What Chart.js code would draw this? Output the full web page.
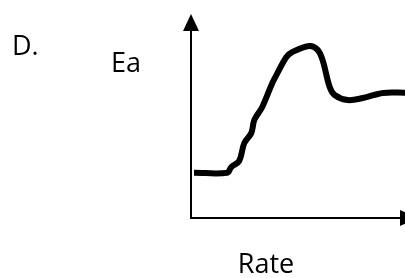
<!DOCTYPE html>
<html>
<head>
<meta charset="utf-8">
<script src="https://cdn.jsdelivr.net/npm/chart.js@4"></script>
<style>
  html, body { margin: 0; padding: 0; background: #fff; }
  #wrap { width: 405px; height: 278px; }
</style>
</head>
<body>
<div id="wrap"><canvas id="chart"></canvas></div>
<script>
// curve, x = rate, y = Ea (0..100 both)
const rateValues = [1.4, 16.9, 18.8, 22.5, 24.9, 28.2, 29.6, 33.3, 38.0, 39.9, 44.6, 47.4, 55.4, 59.2, 61.5, 64.8, 67.1, 73.2, 80.3, 89.7, 100];
const eaValues = [22.3, 22.3, 25.1, 28.1, 36.9, 41.9, 48.3, 54.7, 66.5, 70.4, 79.3, 81.8, 84.7, 82.8, 77.8, 64.5, 60.6, 58.1, 59.1, 61.6, 61.7];
const panelLabel = 'D.';
const xTitle = 'Rate';
const yTitle = 'Ea';

const font = '"Open Sans", sans-serif';

// axes with arrow heads + the labels
const axesPlugin = {
    id: 'axes',
    afterDraw(chart) {
        const ctx = chart.ctx;
        const a = chart.chartArea;
        const x0 = a.left, y0 = a.bottom;
        ctx.save();
        ctx.strokeStyle = '#000';
        ctx.fillStyle = '#000';
        ctx.lineWidth = 2;
        ctx.beginPath();
        ctx.moveTo(x0, a.top + 14);
        ctx.lineTo(x0, y0);
        ctx.lineTo(a.right - 5, y0);
        ctx.stroke();
        // up arrow
        ctx.beginPath();
        ctx.moveTo(x0, a.top - 1);
        ctx.lineTo(x0 - 8, a.top + 16);
        ctx.lineTo(x0 + 8, a.top + 16);
        ctx.closePath();
        ctx.fill();
        // right arrow (cut off by the edge)
        ctx.beginPath();
        ctx.moveTo(a.right - 5, y0 - 8);
        ctx.lineTo(a.right + 12, y0);
        ctx.lineTo(a.right - 5, y0 + 8);
        ctx.closePath();
        ctx.fill();

        ctx.font = '27px ' + font;
        ctx.textBaseline = 'alphabetic';
        ctx.textAlign = 'left';
        ctx.fillText(panelLabel, 12, 55);
        ctx.fillText(yTitle, 111, 72);
        ctx.textAlign = 'center';
        ctx.fillText(xTitle, 266, 273);
        ctx.restore();
    }
};

new Chart(document.getElementById('chart'), {
    type: 'scatter',
    data: {
        datasets: [{
            data: rateValues.map((x, i) => ({ x: x, y: eaValues[i] })),
            showLine: true,
            borderColor: '#000',
            borderWidth: 6,
            pointRadius: 0,
            tension: 0.35,
            borderCapStyle: 'butt',
            borderJoinStyle: 'round'
        }]
    },
    options: {
        responsive: true,
        maintainAspectRatio: false,
        animation: false,
        layout: { padding: { left: 191, right: 0, top: 15, bottom: 60 } },
        scales: {
            x: { type: 'linear', min: 0, max: 100, display: false },
            y: { type: 'linear', min: 0, max: 100, display: false }
        },
        plugins: {
            legend: { display: false },
            tooltip: { enabled: false }
        }
    },
    plugins: [axesPlugin]
});
</script>
</body>
</html>
